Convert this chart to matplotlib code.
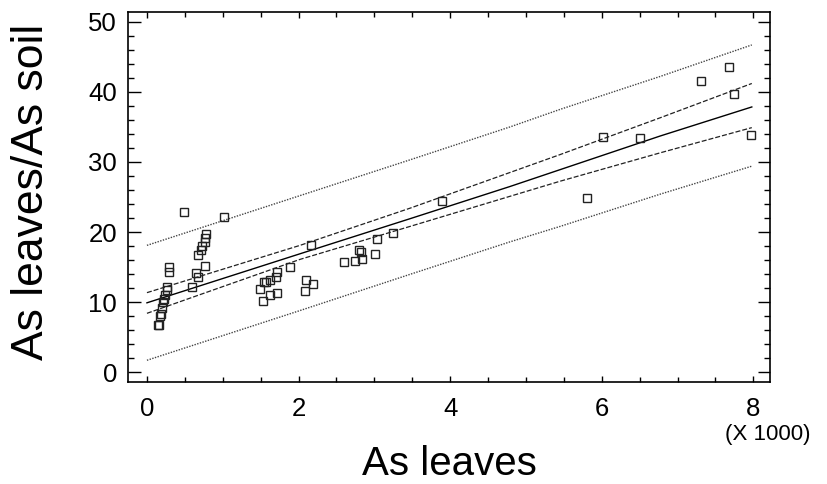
import numpy as np
import matplotlib
matplotlib.use("Agg")
import matplotlib.pyplot as plt
from matplotlib.ticker import MultipleLocator

plt.rcParams["font.family"] = ["Liberation Sans", "DejaVu Sans"]

# observed points: As leaves (raw units) vs As leaves / As soil
as_leaves = [150, 155, 175, 185, 205, 215, 220, 235, 260, 270, 285, 295,
             600, 650, 680, 670, 710, 720, 760, 770, 780, 760,
             490, 1020,
             1495, 1530, 1550, 1570, 1630, 1630, 1700, 1710, 1710, 1890,
             2090, 2100, 2170, 2190,
             2600, 2750, 2800, 2830, 2840, 3010, 3030, 3240,
             3890, 5810, 6020, 6500, 7310, 7680, 7740, 7970]
ratio = [6.7, 6.8, 8.0, 8.3, 9.2, 10.0, 10.4, 11.0, 11.7, 12.1, 14.3, 15.05,
         12.1, 14.2, 13.6, 16.7, 17.4, 18.0, 18.6, 19.2, 19.65, 15.2,
         22.9, 22.1,
         11.9, 10.2, 12.8, 12.9, 13.15, 10.97, 13.6, 14.3, 11.35, 15.05,
         11.6, 13.1, 18.2, 12.6,
         15.7, 15.8, 17.4, 17.1, 16.2, 16.8, 19.0, 19.8,
         24.4, 24.8, 33.6, 33.4, 41.6, 43.6, 39.7, 33.9]

# fitted line, confidence limits and prediction limits
line_x = [0, 2020, 3470, 4790, 5450, 6770, 7980]
fit = [9.9, 16.9, 21.9, 26.5, 28.9, 33.7, 37.85]
conf_hi = [11.35, 18.1, 23.4, 28.5, 31.05, 36.3, 41.2]
conf_lo = [8.4, 16.1, 20.8, 25.1, 27.25, 31.3, 34.9]
pred_hi = [18.1, 25.2, 30.3, 35.0, 37.5, 42.2, 46.7]
pred_lo = [1.7, 8.8, 13.96, 18.6, 20.8, 25.4, 29.4]

scale = 1000.0
xs = np.array(as_leaves) / scale
lx = np.array(line_x) / scale

fig = plt.figure(figsize=(8.28, 4.84), dpi=100)
ax = fig.add_axes([128 / 828, 1 - 382 / 484, 642 / 828, 370 / 484])

ax.plot(lx, pred_hi, color="#444444", lw=1.0, ls=(0, (1, 1)))
ax.plot(lx, pred_lo, color="#444444", lw=1.0, ls=(0, (1, 1)))
ax.plot(lx, conf_hi, color="#222222", lw=0.9, ls=(0, (4, 1.6)))
ax.plot(lx, conf_lo, color="#222222", lw=0.9, ls=(0, (4, 1.6)))
ax.plot(lx, fit, color="black", lw=1.0)
ax.plot(xs, ratio, "s", ms=6, mfc="none", mec="#222222", mew=1.0)

ax.set_xlim(-0.25, 8.22)
ax.set_ylim(-1.4, 51.4)
ax.xaxis.set_major_locator(MultipleLocator(2))
ax.xaxis.set_minor_locator(MultipleLocator(0.5))
ax.yaxis.set_major_locator(MultipleLocator(10))
ax.yaxis.set_minor_locator(MultipleLocator(2))

ax.tick_params(which="both", direction="in", top=True, right=True,
               labelsize=18.5, width=1.0)
ax.tick_params(axis="x", which="major", length=4.5, pad=11)
ax.tick_params(axis="x", which="minor", length=3.5)
ax.tick_params(axis="y", which="major", length=9, pad=8)
ax.tick_params(axis="y", which="minor", length=4)
for s in ax.spines.values():
    s.set_linewidth(1.2)

ax.set_xlabel("As leaves", fontsize=29)
ax.xaxis.set_label_coords(0.5, -0.17)
ax.set_ylabel("As leaves/As soil", fontsize=32)
ax.yaxis.set_label_coords(-0.118, 0.515)
ax.text(0.997, -0.142, "(X 1000)", transform=ax.transAxes, fontsize=16,
        ha="center", va="center")

fig.savefig("out.png", dpi=100)
